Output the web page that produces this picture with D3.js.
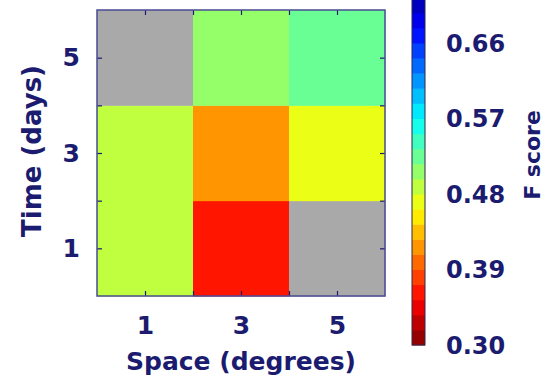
<!DOCTYPE html>
<html>
<head>
<meta charset="utf-8">
<script src="https://cdn.jsdelivr.net/npm/d3@7"></script>
<style>
  html, body { margin: 0; padding: 0; background: #fff; }
  svg { display: block; }
  text { font-family: "DejaVu Sans", sans-serif; font-weight: bold; fill: #1b1b6f; }
</style>
</head>
<body>
<svg id="chart" width="549" height="390"></svg>
<script>
// Grid coordinates (cell centres) and F scores, rows by time
const spaceValues = [1, 3, 5];
const timeValues = [1, 3, 5];
const fScoreTime1 = [0.49, 0.365, null];
const fScoreTime3 = [0.49, 0.415, 0.47];
const fScoreTime5 = [null, 0.505, 0.525];
const tickLabels = [1, 3, 5];
const colorbarTicks = [0.30, 0.39, 0.48, 0.57, 0.66];

const rows = [fScoreTime1, fScoreTime3, fScoreTime5];
const cells = [];
rows.forEach((row, i) => row.forEach((v, j) => cells.push({ space: spaceValues[j], time: timeValues[i], value: v })));

// Jet colormap, reversed so low scores are red and high scores blue
function jet(t) {
  const c = x => Math.max(0, Math.min(1, x));
  const r = c(Math.min(4 * t - 1.5, -4 * t + 4.5));
  const g = c(Math.min(4 * t - 0.5, -4 * t + 3.5));
  const b = c(Math.min(4 * t + 0.5, -4 * t + 2.5));
  return d3.rgb(r * 255, g * 255, b * 255).formatHex();
}
const vMin = 0.30, step = 0.018, nBins = 24;
const vMax = vMin + nBins * step;
const binColor = i => jet((vMax - (vMin + (i + 0.5) * step)) / (vMax - vMin));
const color = v => {
  if (v == null) return "#a9a9a9";
  const i = Math.max(0, Math.min(nBins - 1, Math.floor((v - vMin) / step + 1e-9)));
  return binColor(i);
};

const svg = d3.select("#chart");
const plot = { left: 97, right: 385, top: 10, bottom: 296 };
const x = d3.scaleLinear().domain([0, 6]).range([plot.left, plot.right]);
const y = d3.scaleLinear().domain([0, 6]).range([plot.bottom, plot.top]);

// Heatmap cells, each spanning two units around its centre
svg.append("g").selectAll("rect").data(cells).join("rect")
  .attr("x", d => x(d.space - 1))
  .attr("y", d => y(d.time + 1))
  .attr("width", d => x(d.space + 1) - x(d.space - 1) + 0.5)
  .attr("height", d => y(d.time - 1) - y(d.time + 1) + 0.5)
  .attr("fill", d => color(d.value));

// Axes with inward ticks on all four sides
const tickVals = [1, 2, 3, 4, 5];
const fmt = d => tickLabels.includes(d) ? d : "";
const axisColor = "#4b4b96";
function styleAxis(g) {
  g.select(".domain").remove();
  g.selectAll(".tick line").attr("stroke", "#1b1b6f").attr("stroke-width", 1.2);
  g.selectAll(".tick text").style("font-size", "25px").attr("fill", "#1b1b6f");
}
svg.append("g").attr("transform", `translate(0,${plot.bottom})`)
  .call(d3.axisBottom(x).tickValues(tickVals).tickFormat(fmt).tickSizeInner(-5).tickPadding(14))
  .call(styleAxis)
  .selectAll(".tick text").attr("dy", "0.95em");
svg.append("g").attr("transform", `translate(0,${plot.top})`)
  .call(d3.axisTop(x).tickValues(tickVals).tickFormat("").tickSizeInner(-5))
  .call(styleAxis);
svg.append("g").attr("transform", `translate(${plot.left},0)`)
  .call(d3.axisLeft(y).tickValues(tickVals).tickFormat(fmt).tickSizeInner(-5).tickPadding(17))
  .call(styleAxis);
svg.append("g").attr("transform", `translate(${plot.right},0)`)
  .call(d3.axisRight(y).tickValues(tickVals).tickFormat("").tickSizeInner(-5))
  .call(styleAxis);

svg.append("rect")
  .attr("x", plot.left).attr("y", plot.top)
  .attr("width", plot.right - plot.left).attr("height", plot.bottom - plot.top)
  .attr("fill", "none").attr("stroke", axisColor).attr("stroke-width", 1.5);

// Axis titles
svg.append("text").attr("x", 241).attr("y", 370)
  .attr("text-anchor", "middle").style("font-size", "25px")
  .text("Space (degrees)");
svg.append("text").attr("transform", "translate(41,151) rotate(-90)")
  .attr("text-anchor", "middle").style("font-size", "26px")
  .text("Time (days)");

// Discrete colorbar
const cb = { left: 412, width: 13 };
const cy = d3.scaleLinear().domain([0.30, 0.66]).range([345, 43]);
const bins = d3.range(nBins);
svg.append("g").selectAll("rect").data(bins).join("rect")
  .attr("x", cb.left)
  .attr("y", i => cy(vMin + (i + 1) * step))
  .attr("width", cb.width)
  .attr("height", i => cy(vMin + i * step) - cy(vMin + (i + 1) * step) + 0.5)
  .attr("fill", i => binColor(i));
svg.append("rect")
  .attr("x", cb.left).attr("y", cy(vMax))
  .attr("width", cb.width).attr("height", cy(vMin) - cy(vMax))
  .attr("fill", "none").attr("stroke", "#2a2a4a").attr("stroke-width", 1);

svg.append("g").selectAll("text").data(colorbarTicks).join("text")
  .attr("x", 446).attr("y", d => cy(d))
  .attr("dy", "0.36em").style("font-size", "24px")
  .text(d => d.toFixed(2));

svg.append("text").attr("transform", "translate(540,155) rotate(-90)")
  .attr("text-anchor", "middle").style("font-size", "22px")
  .text("F score");
</script>
</body>
</html>
